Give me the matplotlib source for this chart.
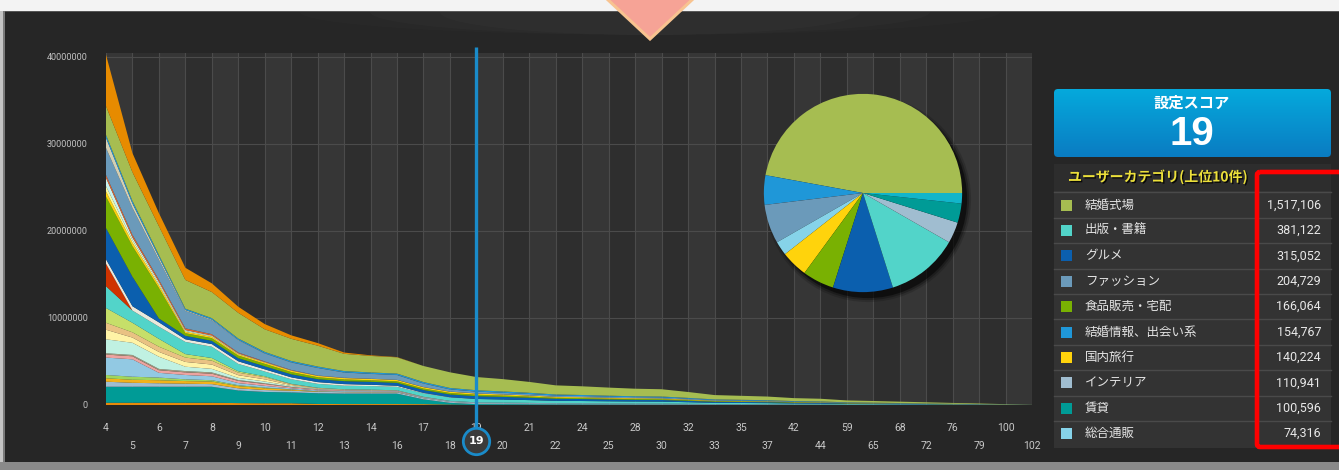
import numpy as np
import matplotlib.pyplot as plt
from matplotlib.patches import Rectangle, Polygon, FancyBboxPatch, Ellipse, Circle
from matplotlib.colors import LinearSegmentedColormap
import matplotlib.patheffects as pe

plt.rcParams['font.family'] = ['Noto Sans CJK JP', 'DejaVu Sans']

# x categories (score)
scores = [4, 5, 6, 7, 8, 9, 10, 11, 12, 13, 14, 16, 17, 18, 19, 20, 21, 22, 24, 25,
          28, 30, 32, 33, 35, 37, 42, 44, 59, 65, 68, 72, 76, 79, 100, 102]
selected_score = 19

# stacked layers, bottom to top, values in millions of users
z21 = [0] * 21
base_orange = [0.26, 0.26, 0.26, 0.26, 0.26, 0.22, 0.2, 0.2, 0.12, 0.11, 0.11, 0.11, 0.1, 0.05, 0] + z21
chintai = [1.84, 1.84, 1.84, 1.84, 1.84, 1.45, 1.3, 1.25, 1.23, 1.2, 1.2, 1.2, 0.55, 0.2, 0.1006,
           0.095, 0.085, 0.073, 0.07, 0.065, 0.06, 0.058, 0.05, 0.038, 0.036, 0.033, 0.027, 0.024,
           0.018, 0.016, 0.013, 0.011, 0.008, 0.006, 0.003, 0.001]
interior = [0.58, 0.45, 0.4, 0.35, 0.3, 0.25, 0.22, 0.2, 0.17, 0.16, 0.15, 0.14, 0.125, 0.115, 0.1109,
            0.105, 0.095, 0.08, 0.077, 0.072, 0.067, 0.065, 0.055, 0.043, 0.04, 0.037, 0.03, 0.027,
            0.02, 0.018, 0.015, 0.012, 0.009, 0.007, 0.004, 0.001]
amber = [0.39, 0.35, 0.35, 0.3, 0.3, 0.25, 0.2, 0.12, 0.05, 0.04, 0.03, 0.03, 0.02, 0.01, 0.01] + z21
light_green = [0.38, 0.35, 0.3, 0.2, 0.15, 0.1, 0.08, 0.03, 0.01, 0, 0, 0, 0, 0, 0] + z21
tsuhan = [2.0, 2.0, 0.55, 0.5, 0.45, 0.25, 0.2, 0.12, 0.1, 0.09, 0.085, 0.08, 0.078, 0.076, 0.0743,
          0.07, 0.063, 0.054, 0.051, 0.048, 0.045, 0.043, 0.036, 0.028, 0.026, 0.024, 0.02, 0.018,
          0.013, 0.012, 0.01, 0.008, 0.006, 0.004, 0.002, 0.0]
pink = [0.35, 0.35, 0.3, 0.3, 0.3, 0.25, 0.22, 0.12, 0.1, 0.08, 0.08, 0.06, 0.03, 0.02, 0.01] + z21
taupe = [0.15, 0.15, 0.15, 0.15, 0.15, 0.1, 0.08, 0.05, 0.03, 0.02, 0.02, 0.01, 0.01, 0, 0] + z21
mint = [1.6, 1.4, 1.4, 0.5, 0.4, 0.25, 0.2, 0.1, 0.05, 0.03, 0.02, 0.02, 0.01, 0, 0] + z21
pale_yellow = [1.1, 0.6, 0.55, 0.55, 0.5, 0.3, 0.25, 0.1, 0.05, 0.03, 0.03, 0.02, 0.01, 0, 0] + z21
tan = [0.8, 0.6, 0.6, 0.5, 0.45, 0.3, 0.25, 0.1, 0.05, 0.03, 0.03, 0.02, 0.01, 0, 0] + z21
lime = [1.7, 1.1, 0.9, 0.4, 0.3, 0.15, 0.1, 0.04, 0.02, 0.01, 0.01, 0, 0, 0, 0] + z21
shuppan = [2.5, 1.4, 1.4, 1.4, 1.3, 0.85, 0.55, 0.53, 0.45, 0.42, 0.41, 0.4, 0.4, 0.39, 0.3811,
           0.36, 0.32, 0.27, 0.26, 0.24, 0.23, 0.22, 0.18, 0.14, 0.13, 0.12, 0.1, 0.09, 0.068,
           0.06, 0.05, 0.04, 0.031, 0.022, 0.013, 0.002]
red = [2.6] + [0] * 35
white = [0.5, 0.5, 0.5, 0.3, 0.3, 0.3, 0.25, 0.22, 0.2, 0.18, 0.15, 0.12, 0.05, 0.03, 0.01] + z21
gourmet = [3.6, 3.4, 0.45, 0.4, 0.38, 0.36, 0.35, 0.35, 0.34, 0.34, 0.34, 0.33, 0.33, 0.32, 0.3151,
           0.3, 0.27, 0.24, 0.225, 0.21, 0.195, 0.19, 0.16, 0.125, 0.117, 0.108, 0.088, 0.08, 0.06,
           0.052, 0.044, 0.035, 0.027, 0.02, 0.011, 0.002]
shokuhin = [3.6, 3.5, 3.5, 0.3, 0.3, 0.3, 0.28, 0.26, 0.22, 0.2, 0.18, 0.18, 0.17, 0.17, 0.1661,
            0.155, 0.14, 0.12, 0.115, 0.105, 0.1, 0.095, 0.08, 0.063, 0.058, 0.054, 0.044, 0.04,
            0.03, 0.026, 0.022, 0.018, 0.013, 0.01, 0.006, 0.001]
ryoko = [0.6, 0.4, 0.3, 0.16, 0.16, 0.15, 0.15, 0.15, 0.15, 0.15, 0.15, 0.15, 0.15, 0.145, 0.1402,
         0.13, 0.12, 0.1, 0.095, 0.09, 0.085, 0.08, 0.07, 0.055, 0.05, 0.045, 0.037, 0.034, 0.025,
         0.022, 0.018, 0.015, 0.011, 0.008, 0.005, 0.001]
pale_yellow2 = [0.6, 0.3, 0.2, 0.1, 0.08, 0.05, 0.03, 0.02, 0.02, 0.01, 0.01, 0.005, 0.005, 0.005, 0.005] + z21
light_cyan = [0.95, 0.3, 0.2, 0.1, 0.07, 0.05, 0.03, 0.02, 0.01, 0.01, 0.005, 0.005, 0.005, 0.005, 0.005] + z21
orange_red = [0.35, 0.3, 0.25, 0.2, 0.15, 0.1, 0.07, 0.05, 0.02, 0.02, 0.01, 0.01, 0.01, 0.005, 0.005] + z21
fashion = [3.1, 3.1, 2.3, 2.0, 1.6, 1.4, 0.9, 0.85, 0.85, 0.6, 0.55, 0.55, 0.4, 0.25, 0.2047,
           0.19, 0.17, 0.15, 0.14, 0.13, 0.12, 0.12, 0.1, 0.08, 0.075, 0.07, 0.055, 0.05, 0.038,
           0.033, 0.028, 0.022, 0.017, 0.012, 0.007, 0.001]
beige = [1.15, 0.5, 0.3, 0.1, 0.08, 0.05, 0.03, 0.02, 0.02, 0.01, 0.01, 0.01, 0.01, 0.005, 0.005] + z21
kekkon_joho = [0.35, 0.3, 0.25, 0.16, 0.16, 0.16, 0.16, 0.16, 0.16, 0.16, 0.16, 0.16, 0.16, 0.16, 0.1548,
               0.15, 0.14, 0.12, 0.115, 0.11, 0.1, 0.1, 0.085, 0.07, 0.065, 0.06, 0.05, 0.045, 0.035,
               0.03, 0.025, 0.02, 0.016, 0.012, 0.007, 0.001]
kekkon_shikijo = [3.3, 3.3, 3.3, 3.3, 3.0, 2.95, 2.6, 2.55, 2.4, 1.98, 1.9, 1.87, 1.85, 1.8, 1.5171,
                  1.42, 1.25, 1.05, 1.0, 0.93, 0.87, 0.84, 0.68, 0.5, 0.46, 0.42, 0.34, 0.31, 0.22,
                  0.19, 0.16, 0.13, 0.1, 0.07, 0.04, 0.008]
orange_top = [5.9, 2.2, 1.5, 1.4, 1.0, 0.7, 0.6, 0.4, 0.3, 0.15, 0.07, 0.03, 0, 0, 0] + z21

layers = [base_orange, chintai, interior, amber, light_green, tsuhan, pink, taupe, mint,
          pale_yellow, tan, lime, shuppan, red, white, gourmet, shokuhin, ryoko, pale_yellow2,
          light_cyan, orange_red, fashion, beige, kekkon_joho, kekkon_shikijo, orange_top]
layer_colors = ['#e88a0a', '#009b96', '#a0bdd0', '#f3b21a', '#9fd65e', '#92c9e3', '#eda3a0',
                '#a5977c', '#c0f1e2', '#fff3a6', '#e9c283', '#c6df69', '#52d4c9', '#cf3300',
                '#e9e9dc', '#0b5fae', '#79b102', '#ffd30c', '#fbfa9c', '#c7f2f0', '#e1632e',
                '#6b9aba', '#d4cfb3', '#1f97d8', '#a6bd51', '#e78b00']

# top-10 table
cat_names = ['結婚式場', '出版・書籍', 'グルメ', 'ファッション', '食品販売・宅配',
             '結婚情報、出会い系', '国内旅行', 'インテリア', '賃貸', '総合通販']
cat_values = [1517106, 381122, 315052, 204729, 166064, 154767, 140224, 110941, 100596, 74316]
cat_colors = ['#a6bd51', '#52d4c9', '#0b5fae', '#6b9aba', '#79b102', '#1f97d8', '#ffd30c',
              '#a0bdd0', '#009b96', '#86d3e9']

# pie (counter-clockwise from 3 o'clock)
pie_order = ['結婚式場', '結婚情報、出会い系', 'ファッション', '総合通販', '国内旅行',
             '食品販売・宅配', 'グルメ', '出版・書籍', 'インテリア', '賃貸']
other_value = 55000
other_color = '#12b5ca'

fig = plt.figure(figsize=(13.39, 4.70), dpi=100, facecolor='white')

# background / frame drawn in pixel space
bg = fig.add_axes([0, 0, 1, 1])
bg.set_xlim(0, 1339)
bg.set_ylim(470, 0)
bg.axis('off')
bg.add_patch(Rectangle((0, 0), 1339, 470, color='#f3f3f3', lw=0))
bg.add_patch(Rectangle((0, 0), 3, 470, color='#c4c4c4', lw=0))
bg.add_patch(Rectangle((3, 11), 2, 451, color='#7a7a7a', lw=0))
bg.add_patch(Rectangle((5, 11), 1334, 451, color='#262626', lw=0))
bg.add_patch(Rectangle((5, 11), 1334, 1.2, color='#555555', lw=0))
bg.add_patch(Rectangle((0, 462), 1339, 8, color='#8a8a8a', lw=0))
for w, a in [(700, 0.012), (560, 0.015), (420, 0.015)]:
    bg.add_patch(Ellipse((650, 12), w, 46, color='white', alpha=a, lw=0))
bg.add_patch(Rectangle((0, 0), 1339, 11, color='#f3f3f3', lw=0))
bg.add_patch(Polygon([(606, -2), (694, -2), (650, 39)], closed=True, fc='#f6a396',
                     ec='#f8c390', lw=2.2, zorder=3))

# score box
cmap = LinearSegmentedColormap.from_list('b', ['#05a9dc', '#0a7cc2'])
box = FancyBboxPatch((1054, 89), 277, 68, boxstyle='round,pad=0,rounding_size=4',
                     transform=bg.transData)
im = bg.imshow(np.linspace(0, 1, 60).reshape(-1, 1), extent=(1054, 1331, 157, 89),
               cmap=cmap, aspect='auto', zorder=2)
im.set_clip_path(box)
bg.set_xlim(0, 1339)
bg.set_ylim(470, 0)
bg.text(1192, 103, '設定スコア', color='white', fontsize=11, fontweight='bold',
        ha='center', va='center', zorder=3)
bg.text(1192, 134, str(selected_score), color='white', fontsize=29, fontweight='bold',
        family=['Liberation Sans', 'DejaVu Sans'], ha='center', va='center', zorder=3)

# category table
bg.add_patch(Rectangle((1054, 164), 277, 284, color='#333333', lw=0, zorder=1))
bg.add_patch(Rectangle((1054, 164), 277, 27, color='#2d2d2d', lw=0, zorder=1))
bg.text(1068, 177, 'ユーザーカテゴリ(上位10件)', color='#ece03a', fontsize=10,
        fontweight='bold', ha='left', va='center', zorder=3,
        path_effects=[pe.withSimplePatchShadow(offset=(1, -1), shadow_rgbFace='black', alpha=0.8)])
row_h = 25.4
for k, (name, val, col) in enumerate(zip(cat_names, cat_values, cat_colors)):
    yc = 205 + k * row_h
    bg.plot([1054, 1331], [yc - row_h / 2, yc - row_h / 2], color='#4a4a4a', lw=1, zorder=2)
    bg.add_patch(Rectangle((1061, yc - 5.5), 11, 11, color=col, lw=0, zorder=3))
    bg.text(1085, yc, name, color='#e4e4e4', fontsize=9, ha='left', va='center', zorder=3)
    bg.text(1321, yc, f'{val:,}', color='#e8e8e8', fontsize=9,
            family=['Roboto', 'DejaVu Sans'], ha='right', va='center', zorder=3)

bg.add_patch(FancyBboxPatch((1257, 172), 110, 275, boxstyle='round,pad=0,rounding_size=3',
                            fill=False, ec='#ff0000', lw=3.3, zorder=10))

# main stacked area chart
ax = fig.add_axes([106 / 1339, 1 - 405 / 470, 926 / 1339, (405 - 52.6) / 470])
x = np.arange(len(scores))
ax.set_xlim(0, len(scores) - 1)
ax.set_ylim(0, 40.5e6)
ax.set_facecolor('#2e2e2e')
for k in range(0, len(scores) - 1, 2):
    ax.axvspan(k, k + 1, color='#363636', lw=0, zorder=0)
for k in x:
    ax.axvline(k, color='#4b4b4b', lw=0.8, zorder=0.5)
for v in [1e7, 2e7, 3e7, 4e7]:
    ax.axhline(v, color='#4b4b4b', lw=0.8, zorder=0.5)

ys = np.array(layers) * 1e6
ax.stackplot(x, ys, colors=layer_colors, lw=0, zorder=2)

for s in ax.spines.values():
    s.set_visible(False)
ax.set_xticks([])
yt = [0, 1e7, 2e7, 3e7, 4e7]
ax.set_yticks(yt)
ax.set_yticklabels([str(int(v)) for v in yt], family=['Roboto', 'DejaVu Sans'])
ax.tick_params(axis='y', length=0, pad=13, labelcolor='#c2c2c2', labelsize=6.5)

for i, s in enumerate(scores):
    yy = -2.65e6 if i % 2 == 0 else -4.7e6
    ax.text(i, yy, str(s), color='#c8c8c8', fontsize=7.5, family=['Roboto', 'DejaVu Sans'],
            ha='center', va='center', clip_on=False, zorder=3)

sel = scores.index(selected_score)
ax.plot([sel, sel], [41.1e6, -4.0e6], color='#1a8bc9', lw=2.4, clip_on=False, zorder=5,
        solid_capstyle='butt')
ax.plot(sel, -4.1e6, 'o', ms=19, mfc='#3b3b3b', mec='#1a8bc9', mew=2, clip_on=False, zorder=6)
ax.text(sel, -4.1e6, str(selected_score), color='white', fontsize=8, fontweight='bold',
        family=['DejaVu Sans'], ha='center', va='center', clip_on=False, zorder=7)

# pie of selected score
pie_vals = [cat_values[cat_names.index(n)] for n in pie_order] + [other_value]
pie_cols = [cat_colors[cat_names.index(n)] for n in pie_order] + [other_color]
half = 114
pax = fig.add_axes([(863 - half) / 1339, 1 - (193 + half) / 470, 2 * half / 1339, 2 * half / 470])
for r, a in [(1.04, 0.15), (1.02, 0.25), (1.0, 0.5)]:
    pax.add_patch(Circle((0.05, -0.06), r, color='black', alpha=a, lw=0))
pax.pie(pie_vals, colors=pie_cols, startangle=0, counterclock=True, radius=1.0,
        wedgeprops=dict(lw=0.3, edgecolor='none'))
pax.set_xlim(-1.15, 1.15)
pax.set_ylim(-1.15, 1.15)
pax.set_aspect('equal')
pax.axis('off')

fig.savefig('out.png', dpi=100, facecolor=fig.get_facecolor())
